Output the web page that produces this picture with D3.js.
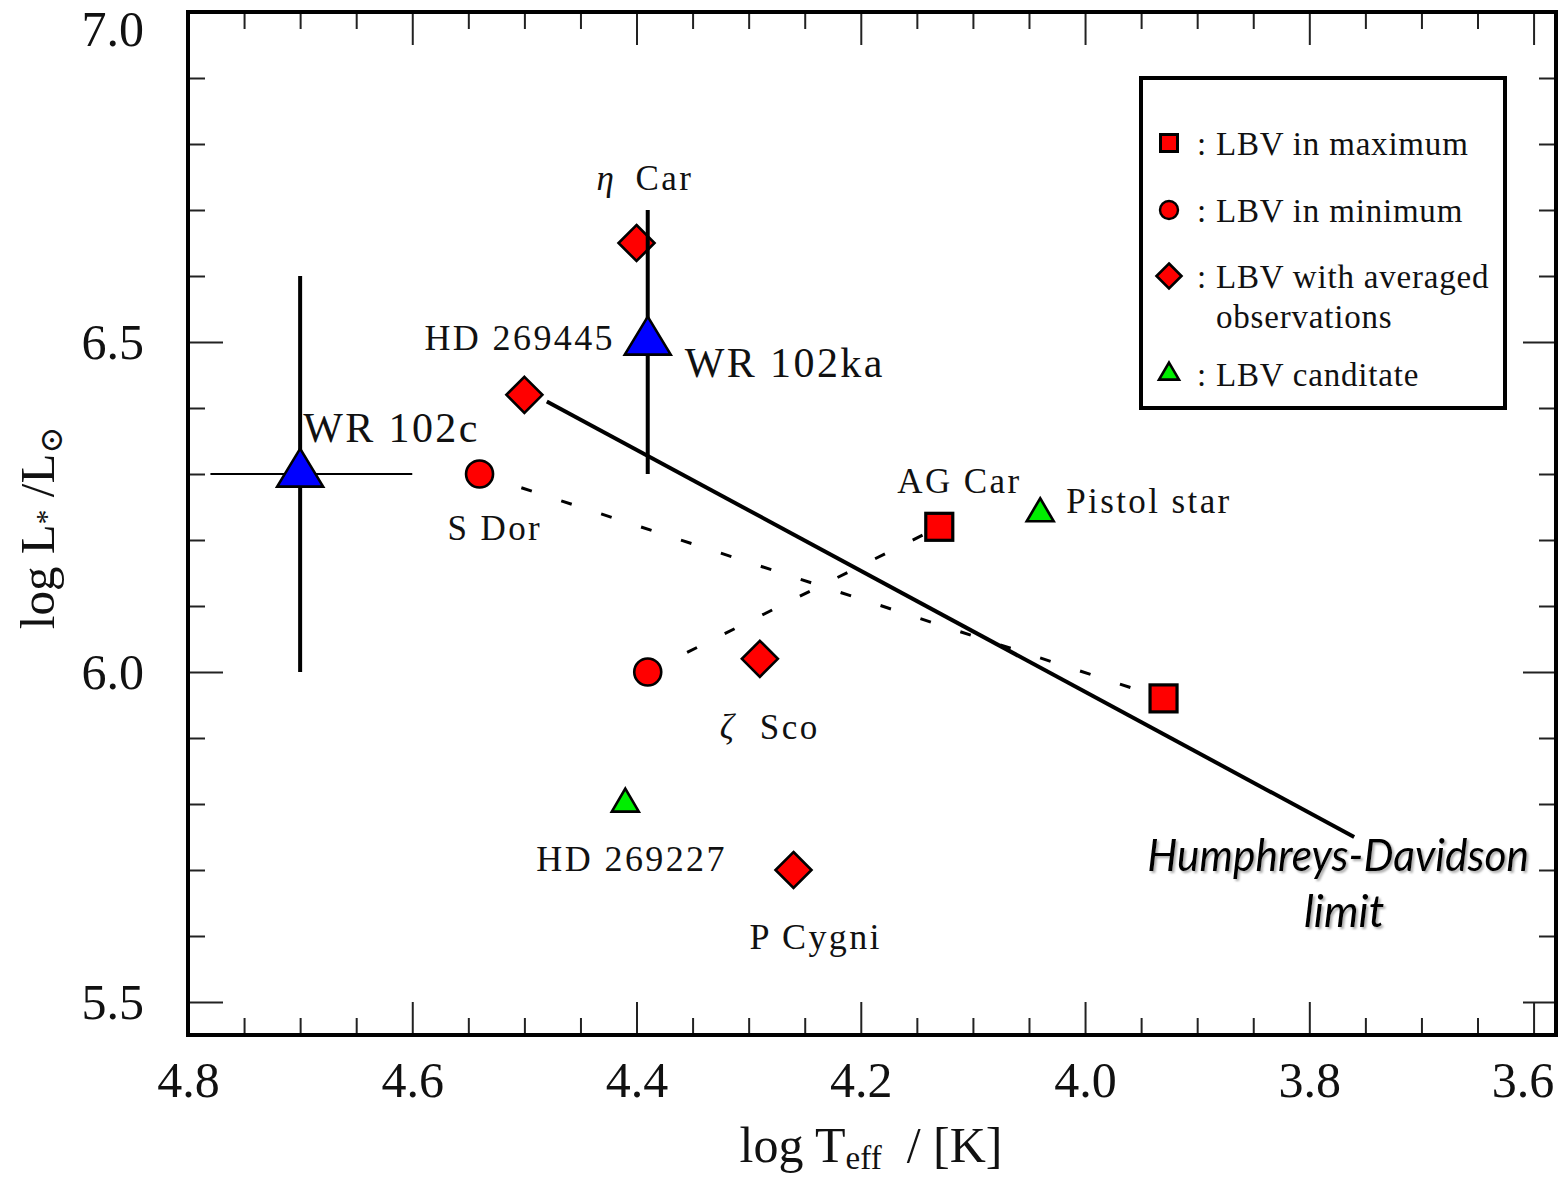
<!DOCTYPE html>
<html>
<head>
<meta charset="utf-8">
<script src="https://cdn.jsdelivr.net/npm/d3@7"></script>
<style>
  html, body { margin: 0; padding: 0; background: #fff; }
  svg { display: block; }
  .serif { font-family: "Liberation Serif", "Times New Roman", serif; fill: #111; }
</style>
</head>
<body>
<svg id="chart" width="1563" height="1178"></svg>
<script>
// Axis ticks
const xMajor = [4.8, 4.6, 4.4, 4.2, 4.0, 3.8, 3.6];
const xTickLabels = ["4.8", "4.6", "4.4", "4.2", "4.0", "3.8", "3.6"];
const yMajor = [5.5, 6.0, 6.5, 7.0];
const yTickLabels = ["5.5", "6.0", "6.5", "7.0"];

// LBV in maximum (squares)
const maxNames = ["AG Car", "S Dor"];
const maxT = [4.13, 3.93];
const maxL = [6.22, 5.96];

// LBV in minimum (circles)
const minNames = ["S Dor", "AG Car"];
const minT = [4.54, 4.39];
const minL = [6.30, 6.00];

// LBV with averaged observations (diamonds)
const avgNames = ["η Car", "HD 269445", "ζ Sco", "P Cygni"];
const avgT = [4.40, 4.50, 4.29, 4.26];
const avgL = [6.65, 6.42, 6.02, 5.70];

// LBV candidates (green triangles)
const candNames = ["Pistol star", "HD 269227"];
const candT = [4.04, 4.41];
const candL = [6.24, 5.80];

// WR stars (blue triangles) with error bars
const wrNames = ["WR 102c", "WR 102ka"];
const wrT = [4.70, 4.39];
const wrL = [6.30, 6.50];
const wrLErr = [0.30, 0.20];
const wrTLow = [4.78, null];
const wrTHigh = [4.60, null];

// Humphreys-Davidson limit
const hdT = [4.48, 3.76];
const hdL = [6.41, 5.75];

// Legend entries
const legendLabels = ["LBV in maximum", "LBV in minimum", "LBV with averaged", "LBV canditate"];

const svg = d3.select("#chart");
const pLeft = 188, pRight = 1556, pTop = 12, pBottom = 1035;

const x = d3.scaleLinear().domain([4.8, 3.58]).range([pLeft, pRight]);
const y = d3.scaleLinear().domain([5.45, 7.0]).range([pBottom, pTop]);

const xMinor = d3.range(0, 25).map(i => +(3.6 + i * 0.05).toFixed(2)).filter(v => !xMajor.includes(v));
const yMinor = d3.range(0, 15).map(i => +(5.5 + i * 0.1).toFixed(1)).filter(v => !yMajor.includes(v));

const majorLen = 33, minorLen = 17;

function styleAxis(g) {
  g.select(".domain").remove();
  g.selectAll(".tick line").attr("stroke", "#222").attr("stroke-width", 2);
  g.selectAll(".tick text")
    .attr("class", "serif")
    .style("font-size", "50px")
    .attr("fill", "#111");
}

// bottom axis
const gBottom = svg.append("g").attr("transform", `translate(0,${pBottom})`);
gBottom.call(d3.axisBottom(x).tickValues(xMajor).tickSizeInner(-majorLen).tickSizeOuter(0)
  .tickPadding(26).tickFormat((d, i) => xTickLabels[i]));
gBottom.call(styleAxis);
gBottom.selectAll(".tick text").filter((d) => d === 3.6).attr("dx", -11);
svg.append("g").attr("transform", `translate(0,${pBottom})`)
  .call(d3.axisBottom(x).tickValues(xMinor).tickSizeInner(-minorLen).tickSizeOuter(0).tickFormat(""))
  .call(styleAxis);

// top axis (mirrored ticks)
svg.append("g").attr("transform", `translate(0,${pTop})`)
  .call(d3.axisTop(x).tickValues(xMajor).tickSizeInner(-majorLen).tickSizeOuter(0).tickFormat(""))
  .call(styleAxis);
svg.append("g").attr("transform", `translate(0,${pTop})`)
  .call(d3.axisTop(x).tickValues(xMinor).tickSizeInner(-minorLen).tickSizeOuter(0).tickFormat(""))
  .call(styleAxis);

// left axis
const gLeft = svg.append("g").attr("transform", `translate(${pLeft},0)`);
gLeft.call(d3.axisLeft(y).tickValues(yMajor).tickSizeInner(-majorLen - 2).tickSizeOuter(0)
  .tickPadding(44).tickFormat((d, i) => yTickLabels[i]));
gLeft.call(styleAxis);
gLeft.selectAll(".tick text").filter((d) => d === 7.0).attr("dy", "0.66em");
svg.append("g").attr("transform", `translate(${pLeft},0)`)
  .call(d3.axisLeft(y).tickValues(yMinor).tickSizeInner(-minorLen).tickSizeOuter(0).tickFormat(""))
  .call(styleAxis);

// right axis (mirrored ticks)
svg.append("g").attr("transform", `translate(${pRight},0)`)
  .call(d3.axisRight(y).tickValues(yMajor).tickSizeInner(-majorLen).tickSizeOuter(0).tickFormat(""))
  .call(styleAxis);
svg.append("g").attr("transform", `translate(${pRight},0)`)
  .call(d3.axisRight(y).tickValues(yMinor).tickSizeInner(-minorLen).tickSizeOuter(0).tickFormat(""))
  .call(styleAxis);

// frame
svg.append("rect")
  .attr("x", pLeft).attr("y", pTop)
  .attr("width", pRight - pLeft).attr("height", pBottom - pTop)
  .attr("fill", "none").attr("stroke", "#000").attr("stroke-width", 4);

// axis titles
const xTitle = svg.append("text").attr("class", "serif")
  .attr("x", 871).attr("y", 1162).attr("text-anchor", "middle")
  .attr("xml:space", "preserve")
  .style("font-size", "50px");
xTitle.append("tspan").text("log T");
xTitle.append("tspan").text("eff").style("font-size", "33px").attr("dy", 7);
xTitle.append("tspan").text("  / [K]").attr("dy", -7);

const yTitle = svg.append("text").attr("class", "serif")
  .attr("transform", "translate(54,528) rotate(-90)")
  .attr("text-anchor", "middle")
  .style("font-size", "49px");
yTitle.append("tspan").text("log L");
yTitle.append("tspan").text("*").style("font-size", "30px").attr("dy", 2);
yTitle.append("tspan").text(" /L").attr("dy", -2);
yTitle.append("tspan").text("⊙").style("font-size", "32px").attr("dy", 8)
  .style("font-family", "DejaVu Serif, serif");

// Humphreys-Davidson limit line
const hdPts = hdT.map((t, i) => [x(t), y(hdL[i])]);
svg.append("path")
  .attr("d", d3.line()(hdPts))
  .attr("stroke", "#000").attr("stroke-width", 4).attr("fill", "none");

// dashed connections between minimum and maximum states of the same star
minNames.forEach((name, i) => {
  const j = maxNames.indexOf(name);
  if (j < 0) return;
  svg.append("path")
    .attr("d", d3.line()([[x(minT[i]), y(minL[i])], [x(maxT[j]), y(maxL[j])]]))
    .attr("stroke", "#000").attr("stroke-width", 3)
    .attr("stroke-dasharray", "11,31").attr("stroke-dashoffset", -2)
    .attr("fill", "none");
});

const markStroke = 2.6;
function triPath(w, h) {
  return `M0,${-2 * h / 3}L${w / 2},${h / 3}L${-w / 2},${h / 3}Z`;
}
function diamondPath(r) {
  return `M0,${-r}L${r},0L0,${r}L${-r},0Z`;
}

// diamonds
avgNames.forEach((n, i) => {
  svg.append("path")
    .attr("d", diamondPath(18))
    .attr("transform", `translate(${x(avgT[i])},${y(avgL[i])})`)
    .attr("fill", "#ff0000").attr("stroke", "#000").attr("stroke-width", markStroke)
    .attr("stroke-linejoin", "miter");
});

// circles
minNames.forEach((n, i) => {
  svg.append("circle")
    .attr("cx", x(minT[i])).attr("cy", y(minL[i])).attr("r", 13.5)
    .attr("fill", "#ff0000").attr("stroke", "#000").attr("stroke-width", markStroke);
});

// squares
maxNames.forEach((n, i) => {
  svg.append("rect")
    .attr("x", x(maxT[i]) - 13.5).attr("y", y(maxL[i]) - 13.5)
    .attr("width", 27).attr("height", 27)
    .attr("fill", "#ff0000").attr("stroke", "#000").attr("stroke-width", 3.2);
});

// candidates
candNames.forEach((n, i) => {
  svg.append("path")
    .attr("d", triPath(27, 23))
    .attr("transform", `translate(${x(candT[i])},${y(candL[i])})`)
    .attr("fill", "#00ee00").attr("stroke", "#000").attr("stroke-width", markStroke)
    .attr("stroke-linejoin", "miter");
});

// WR error bars
wrNames.forEach((n, i) => {
  svg.append("line")
    .attr("x1", x(wrT[i])).attr("x2", x(wrT[i]))
    .attr("y1", y(wrL[i] - wrLErr[i])).attr("y2", y(wrL[i] + wrLErr[i]))
    .attr("stroke", "#000").attr("stroke-width", 4);
  if (wrTLow[i] !== null) {
    svg.append("line")
      .attr("x1", x(wrTLow[i])).attr("x2", x(wrTHigh[i]))
      .attr("y1", y(wrL[i])).attr("y2", y(wrL[i]))
      .attr("stroke", "#000").attr("stroke-width", 2.2);
  }
});

// WR triangles
wrNames.forEach((n, i) => {
  svg.append("path")
    .attr("d", triPath(46, 38))
    .attr("transform", `translate(${x(wrT[i])},${y(wrL[i])})`)
    .attr("fill", "#0000ff").attr("stroke", "#000").attr("stroke-width", markStroke)
    .attr("stroke-linejoin", "miter");
});

// point labels: offsets in pixels from the marker they name
function labelAt(px, py, dx, dy, txt, size, italicPrefix) {
  const t = svg.append("text").attr("class", "serif")
    .attr("x", px + dx).attr("y", py + dy)
    .style("font-size", size + "px").style("letter-spacing", "2.4px");
  if (italicPrefix) {
    t.append("tspan").text(italicPrefix.sym).style("font-style", "italic");
    t.append("tspan").attr("x", px + dx + italicPrefix.gap).text(txt);
  } else {
    t.text(txt);
  }
}

labelAt(x(avgT[0]), y(avgL[0]), -40, -53, "Car", 35, { sym: "η", gap: 39 });
labelAt(x(avgT[1]), y(avgL[1]), -100, -45, "HD 269445", 36);
labelAt(x(avgT[2]), y(avgL[2]), -40, 80, "Sco", 35, { sym: "ζ", gap: 40 });
labelAt(x(avgT[3]), y(avgL[3]), -44, 79, "P Cygni", 36);
labelAt(x(minT[0]), y(minL[0]), -32, 66, "S Dor", 35);
labelAt(x(maxT[0]), y(maxL[0]), -42, -34, "AG Car", 35);
labelAt(x(candT[0]), y(candL[0]), 26, -1, "Pistol star", 35);
labelAt(x(candT[1]), y(candL[1]), -89, 67, "HD 269227", 36);
labelAt(x(wrT[0]), y(wrL[0]), 3, -32, "WR 102c", 42);
labelAt(x(wrT[1]), y(wrL[1]), 37, 35, "WR 102ka", 42);

// Humphreys-Davidson label with a soft shadow
const defs = svg.append("defs");
const f = defs.append("filter").attr("id", "shadow").attr("x", "-10%").attr("y", "-20%")
  .attr("width", "120%").attr("height", "150%");
f.append("feDropShadow").attr("dx", 2).attr("dy", 2).attr("stdDeviation", 1.2)
  .attr("flood-color", "#777").attr("flood-opacity", 0.6);

const hdEnd = hdPts[1];
const hdLabel = svg.append("text")
  .attr("text-anchor", "middle")
  .style("font-family", "Lato, 'Open Sans', sans-serif")
  .style("font-style", "italic")
  .style("font-size", "44px")
  .attr("fill", "#000")
  .attr("filter", "url(#shadow)");
hdLabel.append("tspan").attr("x", hdEnd[0] - 16).attr("y", hdEnd[1] + 34)
  .attr("textLength", 382).attr("lengthAdjust", "spacingAndGlyphs")
  .text("Humphreys-Davidson");
hdLabel.append("tspan").attr("x", hdEnd[0] - 10).attr("y", hdEnd[1] + 90).text("limit");

// legend
const lg = svg.append("g");
lg.append("rect").attr("x", 1141).attr("y", 78).attr("width", 364).attr("height", 330)
  .attr("fill", "#fff").attr("stroke", "#000").attr("stroke-width", 4);
const legX = 1169;
const legRows = [143, 210, 276, 374];
lg.append("rect").attr("x", legX - 8.5).attr("y", legRows[0] - 8.5).attr("width", 17).attr("height", 17)
  .attr("fill", "#ff0000").attr("stroke", "#000").attr("stroke-width", 3);
lg.append("circle").attr("cx", legX).attr("cy", legRows[1]).attr("r", 9)
  .attr("fill", "#ff0000").attr("stroke", "#000").attr("stroke-width", 2.4);
lg.append("path").attr("d", diamondPath(12.5)).attr("transform", `translate(${legX},${legRows[2]})`)
  .attr("fill", "#ff0000").attr("stroke", "#000").attr("stroke-width", 2.6);
lg.append("path").attr("d", triPath(20, 17)).attr("transform", `translate(${legX},${legRows[3]})`)
  .attr("fill", "#00ee00").attr("stroke", "#000").attr("stroke-width", 2.6);
legendLabels.forEach((lab, i) => {
  lg.append("text").attr("class", "serif")
    .attr("x", 1197).attr("y", legRows[i] + 12)
    .style("font-size", "33px").style("letter-spacing", "0.8px")
    .attr("xml:space", "preserve")
    .text(": " + lab);
});
lg.append("text").attr("class", "serif")
  .attr("x", 1216).attr("y", 328)
  .style("font-size", "33px").style("letter-spacing", "0.8px")
  .text("observations");
</script>
</body>
</html>
